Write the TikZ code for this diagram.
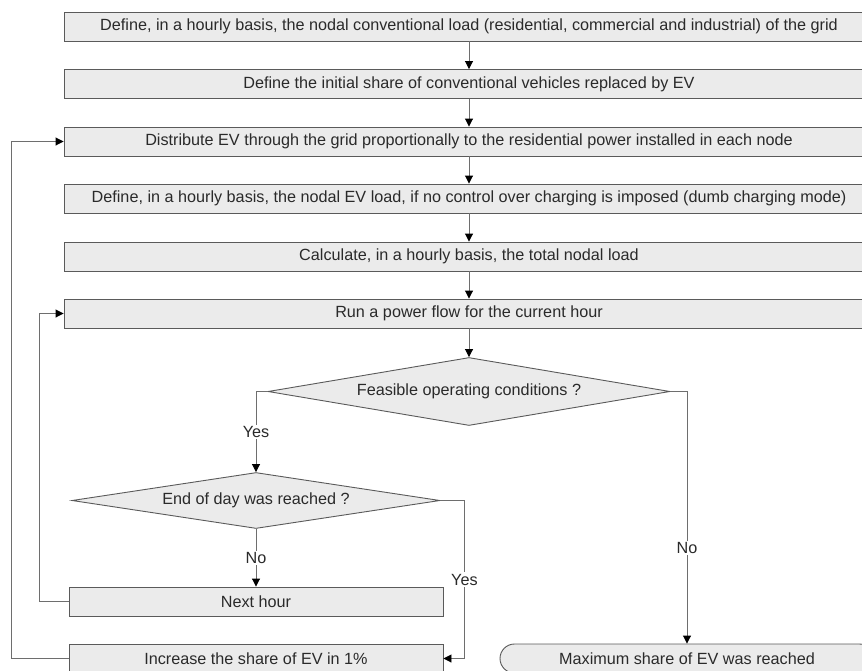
\documentclass[tikz,border=0pt]{standalone}
\usepackage{fontspec}
\setmainfont{Liberation Sans}
\usetikzlibrary{shapes.geometric, shapes.misc, arrows.meta}
\definecolor{FlowFill}{HTML}{EBEBEB}
\definecolor{FlowBorder}{HTML}{5A5A5A}
\definecolor{FlowLine}{HTML}{6E6E6E}
\definecolor{FlowText}{HTML}{2A2A2A}
\tikzset{
  stepbox/.style={draw=FlowBorder, fill=FlowFill, line width=0.9pt, minimum width=810pt, minimum height=29pt, inner sep=0pt, text=FlowText, font=\fontsize{16.2}{18}\selectfont},
  smallbox/.style={stepbox, minimum width=374pt},
  decision/.style={draw=FlowBorder, fill=FlowFill, line width=0.9pt, diamond, inner sep=0pt, text=FlowText, font=\fontsize{16.2}{18}\selectfont},
  terminal/.style={smallbox, rounded rectangle},
  flow/.style={draw=FlowLine, line width=0.9pt, -{Triangle[length=8pt, width=8pt, color=black]}},
  answer/.style={fill=white, inner sep=1.5pt, text=FlowText, font=\fontsize{16.2}{18}\selectfont}
}

\begin{document}
\begin{tikzpicture}[x=1pt, y=-1pt]
            \clip[use as bounding box] (0,0) rectangle (862,670);
            % Main sequence
            \node[stepbox] (load) at (469,26.5) {Define, in a hourly basis, the nodal conventional load (residential, commercial and industrial) of the grid};
            \node[stepbox] (share) at (469,84) {Define the initial share of conventional vehicles replaced by EV};
            \node[stepbox] (distribute) at (469,141.5) {Distribute EV through the grid proportionally to the residential power installed in each node};
            \node[stepbox] (evload) at (469,198.5) {Define, in a hourly basis, the nodal EV load, if no control over charging is imposed (dumb charging mode)};
            \node[stepbox] (total) at (469,256.5) {Calculate, in a hourly basis, the total nodal load};
            \node[stepbox] (powerflow) at (469,313.5) {Run a power flow for the current hour};

            % Decisions
            \node[decision, aspect=5.91, minimum width=402pt, minimum height=68pt] (feasible) at (469,391.5) {Feasible operating conditions ?};
            \node[decision, aspect=6.57, minimum width=368pt, minimum height=56pt] (endday) at (256,500.5) {End of day was reached ?};

            % Bottom boxes
            \node[smallbox] (nexthour) at (256,601.5) {Next hour};
            \node[smallbox] (increase) at (256,658.5) {Increase the share of EV in 1\%};
            \node[terminal] (maxshare) at (687,658.5) {Maximum share of EV was reached};

            % Arrows
            \draw[flow] (load) -- (share);
            \draw[flow] (share) -- (distribute);
            \draw[flow] (distribute) -- (evload);
            \draw[flow] (evload) -- (total);
            \draw[flow] (total) -- (powerflow);
            \draw[flow] (powerflow) -- (feasible);
            \draw[flow] (feasible.west) -| node[answer, pos=0.75] {Yes} (endday.north);
            \draw[flow] (feasible.east) -| node[answer, pos=0.81] {No} (maxshare.north);
            \draw[flow] (endday) -- node[answer] {No} (nexthour);
            \draw[flow] (endday.east) -- ++(24,0) |- node[answer, pos=0.25] {Yes} (increase.east);
            \draw[flow] (nexthour.west) -- ++(-29,0) |- (powerflow.west);
            \draw[flow] (increase.west) -- ++(-57,0) |- (distribute.west);
\end{tikzpicture}
\end{document}
